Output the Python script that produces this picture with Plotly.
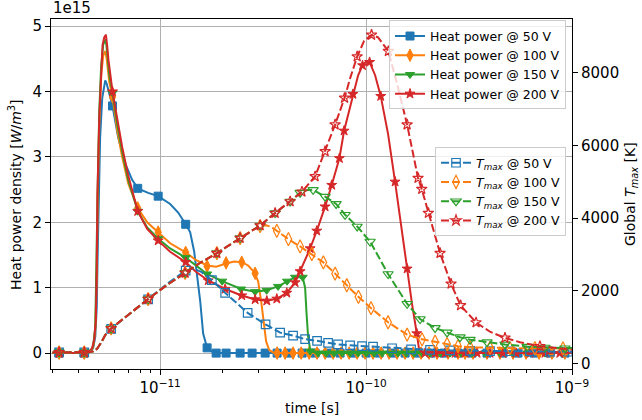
import math
import plotly.graph_objects as go

# ---------------- data (time in s, heat power in 1e15 W/m^3, T in K) ----------------
# Heat power @ 50 V
hp50_line_t = [3.0e-12, 3.23e-12, 4.28e-12, 4.47e-12, 4.624e-12, 4.729e-12, 4.84e-12, 4.92e-12, 4.97e-12, 5.03e-12,
               5.11e-12, 5.23e-12, 5.35e-12, 5.41e-12, 5.50e-12, 5.66e-12, 5.87e-12, 6.25e-12, 6.76e-12, 7.31e-12,
               7.78e-12, 8.74e-12, 9.78e-12, 1.118e-11, 1.223e-11, 1.33e-11, 1.398e-11, 1.463e-11, 1.512e-11, 1.564e-11,
               1.617e-11, 1.69e-11, 1.788e-11, 1.912e-11, 1.0e-9]
hp50_line_v = [0, 0, 0, 0.0, 0.03, 0.08, 0.25, 0.7, 1.5, 2.5,
               3.3, 3.9, 4.12, 4.17, 4.12, 3.95, 3.78, 3.3, 2.9, 2.65,
               2.52, 2.45, 2.40, 2.28, 2.15, 1.97, 1.85, 1.55, 1.2, 0.8,
               0.3, 0.08, 0.02, 0.0, 0.0]
hp50_mk_t = [3.23e-12, 4.28e-12, 5.87e-12, 7.78e-12, 9.78e-12, 1.33e-11, 1.69e-11, 1.87e-11, 2.09e-11, 2.445e-11,
             2.796e-11, 3.234e-11, 3.697e-11, 4.276e-11, 4.89e-11, 5.655e-11, 6.54e-11, 7.478e-11, 8.65e-11, 1.0e-10,
             1.157e-10, 1.337e-10, 1.547e-10, 1.788e-10, 2.067e-10, 2.391e-10, 2.796e-10, 3.27e-10, 3.867e-10, 4.624e-10,
             5.469e-10, 6.54e-10, 7.81e-10, 9.24e-10]
hp50_mk_v = [0, 0, 3.78, 2.52, 2.40, 1.97, 0.08, 0.0, 0.0, 0.0,
             0.0, 0.0, 0.0, 0.0, 0.0, 0.0, 0.0, 0.0, 0.0, 0.0,
             0.0, 0.0, 0.0, 0.0, 0.0, 0.0, 0.0, 0.0, 0.0, 0.0,
             0.0, 0.0, 0.0, 0.0]

# Heat power @ 100 V
hp100_line_t = [3.0e-12, 3.23e-12, 4.28e-12, 4.47e-12, 4.624e-12, 4.729e-12, 4.84e-12, 4.92e-12, 4.97e-12, 5.06e-12,
                5.17e-12, 5.29e-12, 5.41e-12, 5.50e-12, 5.66e-12, 5.87e-12, 6.19e-12, 6.54e-12, 6.99e-12, 7.78e-12,
                8.65e-12, 9.78e-12, 1.118e-11, 1.33e-11, 1.496e-11, 1.69e-11, 1.87e-11, 2.09e-11, 2.286e-11, 2.49e-11,
                2.674e-11, 2.86e-11, 2.99e-11, 3.092e-11, 3.18e-11, 3.27e-11, 3.38e-11, 3.536e-11, 3.697e-11, 1.0e-9]
hp100_line_v = [0, 0, 0, 0, 0.03, 0.1, 0.35, 1.2, 2.3, 3.5,
                4.25, 4.55, 4.62, 4.5, 4.15, 3.92, 3.4, 3.0, 2.6, 2.22,
                2.0, 1.85, 1.68, 1.54, 1.42, 1.34, 1.32, 1.37, 1.40, 1.39,
                1.34, 1.24, 1.1, 0.8, 0.45, 0.18, 0.05, 0.01, 0.0, 0.0]
hp100_mk_t = [3.23e-12, 4.28e-12, 5.87e-12, 7.78e-12, 9.78e-12, 1.33e-11, 1.69e-11, 2.09e-11, 2.49e-11, 2.892e-11,
              3.697e-11, 4.044e-11, 4.42e-11, 4.84e-11, 5.29e-11, 5.78e-11, 6.324e-11, 6.92e-11, 7.56e-11, 8.27e-11,
              9.05e-11, 9.89e-11, 1.081e-10, 1.183e-10, 1.293e-10, 1.414e-10, 1.547e-10, 1.691e-10, 1.849e-10, 2.022e-10,
              2.211e-10, 2.50e-10, 2.796e-10, 3.024e-10, 3.307e-10, 3.867e-10, 4.47e-10, 5.17e-10, 5.98e-10, 6.92e-10,
              7.99e-10, 9.24e-10]
hp100_mk_v = [0, 0, 3.92, 2.22, 1.85, 1.54, 1.33, 1.38, 1.39, 1.22,
              0.0, 0.0, 0.0, 0.0, 0.0, 0.0, 0.0, 0.0, 0.0, 0.0,
              0.0, 0.0, 0.0, 0.0, 0.0, 0.0, 0.0, 0.0, 0.0, 0.0,
              0.0, 0.0, 0.0, 0.0, 0.0, 0.0, 0.0, 0.0, 0.0, 0.0,
              0.0, 0.0]

# Heat power @ 150 V
hp150_line_t = [3.0e-12, 3.23e-12, 4.28e-12, 4.47e-12, 4.624e-12, 4.729e-12, 4.84e-12, 4.92e-12, 4.97e-12, 5.06e-12,
                5.17e-12, 5.29e-12, 5.44e-12, 5.53e-12, 5.66e-12, 5.87e-12, 6.19e-12, 6.54e-12, 6.99e-12, 7.78e-12,
                8.65e-12, 9.78e-12, 1.118e-11, 1.33e-11, 1.69e-11, 2.0e-11, 2.47e-11, 2.892e-11, 3.29e-11, 3.738e-11,
                4.135e-11, 4.522e-11, 4.92e-11, 5.057e-11, 5.14e-11, 5.229e-11, 5.348e-11, 5.59e-11, 5.85e-11, 1.0e-9]
hp150_line_v = [0, 0, 0, 0, 0.04, 0.12, 0.4, 1.4, 2.5, 3.7,
                4.4, 4.72, 4.8, 4.6, 4.25, 3.98, 3.5, 3.08, 2.65, 2.17,
                1.92, 1.75, 1.6, 1.46, 1.21, 1.10, 0.98, 0.94, 0.96, 1.02,
                1.10, 1.16, 1.16, 1.0, 0.6, 0.25, 0.06, 0.01, 0.0, 0.0]
hp150_mk_t = [3.23e-12, 4.28e-12, 5.87e-12, 7.78e-12, 9.78e-12, 1.33e-11, 1.69e-11, 2.0e-11, 2.47e-11, 2.892e-11,
              3.29e-11, 3.738e-11, 4.135e-11, 4.522e-11, 4.92e-11, 5.348e-11, 5.85e-11, 6.395e-11, 6.99e-11, 7.65e-11,
              8.363e-11, 9.15e-11, 1.0e-10, 1.093e-10, 1.196e-10, 1.308e-10, 1.43e-10, 1.564e-10, 1.711e-10, 1.87e-10,
              2.045e-10, 2.287e-10, 2.557e-10, 2.892e-10, 3.27e-10, 3.78e-10, 4.47e-10, 5.17e-10, 6.115e-10, 7.39e-10,
              8.94e-10]
hp150_mk_v = [0, 0, 3.98, 2.17, 1.75, 1.46, 1.21, 1.10, 0.98, 0.94,
              0.96, 1.02, 1.10, 1.16, 1.16, 0.03, 0.0, 0.0, 0.0, 0.0,
              0.0, 0.0, 0.0, 0.0, 0.0, 0.0, 0.0, 0.0, 0.0, 0.0,
              0.0, 0.0, 0.0, 0.0, 0.0, 0.0, 0.0, 0.0, 0.0, 0.0,
              0.0]

# Heat power @ 200 V
hp200_line_t = [3.0e-12, 3.23e-12, 4.28e-12, 4.37e-12, 4.522e-12, 4.68e-12, 4.78e-12, 4.87e-12, 4.92e-12, 4.96e-12,
                5.06e-12, 5.14e-12, 5.25e-12, 5.35e-12, 5.45e-12, 5.53e-12, 5.61e-12, 5.87e-12, 6.19e-12, 6.54e-12,
                6.99e-12, 7.78e-12, 8.65e-12, 9.78e-12, 1.118e-11, 1.33e-11, 1.496e-11, 1.711e-11, 2.068e-11, 2.49e-11,
                2.892e-11, 3.295e-11, 3.685e-11, 4.12e-11, 4.522e-11, 4.782e-11, 5.348e-11, 5.76e-11, 6.324e-11, 6.81e-11,
                7.42e-11, 7.82e-11, 8.63e-11, 9.15e-11, 9.61e-11, 1.0e-10, 1.04e-10, 1.106e-10, 1.178e-10, 1.279e-10,
                1.383e-10, 1.479e-10, 1.582e-10, 1.672e-10, 1.763e-10, 1.808e-10, 1.891e-10, 2.0e-10, 1.0e-9]
hp200_line_v = [0, 0, 0, 0, 0.02, 0.08, 0.2, 0.5, 1.3, 2.45,
                3.6, 4.2, 4.71, 4.83, 4.87, 4.7, 4.48, 4.0, 3.55, 3.15,
                2.72, 2.17, 1.9, 1.72, 1.55, 1.39, 1.24, 1.11, 0.98, 0.88,
                0.82, 0.80, 0.83, 0.92, 1.08, 1.25, 1.60, 1.87, 2.24, 2.57,
                2.98, 3.40, 3.96, 4.25, 4.40, 4.46, 4.45, 4.25, 3.93, 3.35,
                2.62, 1.95, 1.29, 0.75, 0.30, 0.06, 0.01, 0.0, 0.0]
hp200_mk_t = [3.23e-12, 4.28e-12, 5.87e-12, 7.78e-12, 9.78e-12, 1.33e-11, 1.711e-11, 2.068e-11, 2.49e-11, 2.892e-11,
              3.295e-11, 3.685e-11, 4.12e-11, 4.522e-11, 4.782e-11, 5.348e-11, 5.76e-11, 6.324e-11, 6.81e-11, 7.42e-11,
              7.82e-11, 8.63e-11, 9.61e-11, 1.04e-10, 1.178e-10, 1.383e-10, 1.582e-10, 1.763e-10, 1.935e-10, 2.163e-10,
              2.418e-10, 2.704e-10, 3.024e-10, 3.458e-10, 3.998e-10, 4.624e-10, 5.348e-10, 6.248e-10, 7.39e-10, 8.73e-10]
hp200_mk_v = [0, 0, 4.0, 2.17, 1.72, 1.39, 1.11, 0.98, 0.88, 0.82,
              0.80, 0.83, 0.92, 1.08, 1.25, 1.60, 1.87, 2.24, 2.57, 2.98,
              3.40, 3.96, 4.40, 4.45, 3.93, 2.62, 1.29, 0.30, 0.0, 0.0,
              0.0, 0.0, 0.0, 0.0, 0.0, 0.0, 0.0, 0.0, 0.0, 0.0]

# T_max @ 50 V
t50_line_t = [3.0e-12, 3.23e-12, 4.28e-12, 4.47e-12, 4.729e-12, 4.94e-12, 5.17e-12, 5.41e-12, 5.78e-12, 7.15e-12,
              8.74e-12, 1.069e-11, 1.33e-11, 1.445e-11, 1.581e-11, 1.783e-11, 2.068e-11, 2.66e-11, 3.25e-11, 3.824e-11,
              4.42e-11, 5.057e-11, 5.78e-11, 6.54e-11, 7.31e-11, 8.363e-11, 9.56e-11, 1.081e-10, 1.337e-10, 1.653e-10,
              2.045e-10, 2.557e-10, 3.198e-10, 3.998e-10, 4.998e-10, 6.248e-10, 7.81e-10, 9.55e-10, 1.0e-9]
t50_line_v = [300, 300, 300, 302, 330, 400, 570, 780, 950, 1380,
              1760, 2170, 2555, 2610, 2520, 2290, 1940, 1390, 1070, 844,
              765, 665, 620, 560, 520, 495, 475, 458, 414, 386,
              370, 355, 345, 338, 332, 327, 322, 318, 317]
t50_mk_t = [3.23e-12, 4.28e-12, 5.78e-12, 8.74e-12, 1.33e-11, 1.783e-11, 2.068e-11, 2.66e-11, 3.25e-11, 3.824e-11,
            4.42e-11, 5.057e-11, 5.78e-11, 6.54e-11, 7.31e-11, 8.363e-11, 9.56e-11, 1.081e-10, 1.337e-10, 1.653e-10,
            2.045e-10, 2.557e-10, 3.198e-10, 3.998e-10, 4.998e-10, 6.248e-10, 7.81e-10, 9.55e-10]
t50_mk_v = [300, 300, 950, 1760, 2555, 2290, 1940, 1390, 1070, 844,
            765, 665, 620, 560, 520, 495, 475, 458, 414, 386,
            370, 355, 345, 338, 332, 327, 322, 318]

# T_max @ 100 V
t100_line_t = [3.0e-12, 3.23e-12, 4.28e-12, 4.47e-12, 4.729e-12, 4.94e-12, 5.17e-12, 5.41e-12, 5.78e-12, 7.15e-12,
               8.74e-12, 1.069e-11, 1.322e-11, 1.564e-11, 1.885e-11, 2.445e-11, 2.796e-11, 3.058e-11, 3.27e-11, 3.458e-11,
               3.685e-11, 4.196e-11, 4.782e-11, 5.45e-11, 6.20e-11, 7.072e-11, 8.06e-11, 9.18e-11, 1.057e-10, 1.279e-10,
               1.582e-10, 1.870e-10, 2.163e-10, 2.473e-10, 2.796e-10, 3.198e-10, 3.998e-10, 4.998e-10, 6.607e-10, 9.04e-10,
               1.0e-9]
t100_line_v = [300, 300, 300, 302, 330, 400, 570, 780, 960, 1390,
               1770, 2140, 2490, 2770, 3035, 3449, 3660, 3780, 3800, 3760,
               3650, 3420, 3220, 3010, 2780, 2470, 2150, 1830, 1520, 1130,
               790, 660, 596, 530, 470, 440, 425, 418, 414, 410,
               408]
t100_mk_t = [3.23e-12, 4.28e-12, 5.78e-12, 8.74e-12, 1.322e-11, 1.885e-11, 2.445e-11, 3.058e-11, 3.685e-11, 4.196e-11,
             4.782e-11, 5.45e-11, 6.20e-11, 7.072e-11, 8.06e-11, 9.18e-11, 1.057e-10, 1.279e-10, 1.582e-10, 1.870e-10,
             2.163e-10, 2.473e-10, 2.796e-10, 3.198e-10, 3.998e-10, 4.998e-10, 6.607e-10, 9.04e-10]
t100_mk_v = [300, 300, 960, 1770, 2490, 3035, 3449, 3780, 3650, 3420,
             3220, 3010, 2780, 2470, 2150, 1830, 1520, 1130, 790, 660,
             596, 530, 470, 440, 425, 418, 414, 410]

# T_max @ 150 V
t150_line_t = [3.0e-12, 3.23e-12, 4.28e-12, 4.47e-12, 4.729e-12, 4.94e-12, 5.17e-12, 5.41e-12, 5.78e-12, 7.15e-12,
               8.74e-12, 1.069e-11, 1.322e-11, 1.564e-11, 1.885e-11, 2.445e-11, 3.058e-11, 3.616e-11, 4.276e-11, 4.782e-11,
               5.114e-11, 5.53e-11, 6.324e-11, 7.15e-11, 7.908e-11, 9.05e-11, 1.046e-10, 1.279e-10, 1.582e-10, 1.829e-10,
               2.163e-10, 2.473e-10, 2.859e-10, 3.198e-10, 3.867e-10, 4.727e-10, 6.05e-10, 7.39e-10, 9.24e-10, 1.0e-9]
t150_line_v = [300, 300, 300, 302, 330, 400, 570, 780, 960, 1390,
               1770, 2140, 2490, 2770, 3035, 3449, 3796, 4139, 4458, 4700,
               4770, 4780, 4590, 4390, 4092, 3769, 3355, 2460, 1640, 1220,
               975, 850, 720, 650, 585, 520, 460, 435, 415, 412]
t150_mk_t = [3.23e-12, 4.28e-12, 5.78e-12, 8.74e-12, 1.322e-11, 1.885e-11, 2.445e-11, 3.058e-11, 3.616e-11, 4.276e-11,
             4.782e-11, 5.53e-11, 6.324e-11, 7.15e-11, 7.908e-11, 9.05e-11, 1.046e-10, 1.279e-10, 1.582e-10, 1.829e-10,
             2.163e-10, 2.473e-10, 2.859e-10, 3.198e-10, 3.867e-10, 4.727e-10, 6.05e-10, 7.39e-10, 9.24e-10]
t150_mk_v = [300, 300, 960, 1770, 2490, 3035, 3449, 3796, 4139, 4458,
             4700, 4780, 4590, 4390, 4092, 3769, 3355, 2460, 1640, 1220,
             975, 850, 720, 650, 585, 520, 460, 435, 415]

# T_max @ 200 V
t200_line_t = [3.0e-12, 3.23e-12, 4.28e-12, 4.47e-12, 4.729e-12, 4.94e-12, 5.17e-12, 5.41e-12, 5.78e-12, 7.15e-12,
               8.74e-12, 1.069e-11, 1.322e-11, 1.564e-11, 1.885e-11, 2.445e-11, 3.058e-11, 3.616e-11, 4.276e-11, 4.88e-11,
               5.655e-11, 6.324e-11, 7.072e-11, 7.86e-11, 8.363e-11, 9.05e-11, 9.78e-11, 1.063e-10, 1.143e-10, 1.283e-10,
               1.414e-10, 1.582e-10, 1.788e-10, 1.863e-10, 2.006e-10, 2.287e-10, 2.586e-10, 2.876e-10, 3.42e-10, 3.998e-10,
               4.727e-10, 5.588e-10, 6.987e-10, 8.73e-10, 1.0e-9]
t200_line_v = [300, 300, 300, 302, 330, 400, 570, 780, 960, 1390,
               1770, 2140, 2490, 2770, 3035, 3449, 3796, 4139, 4458, 4726,
               5148, 5838, 6575, 7311, 7850, 8450, 8880, 9048, 8980, 8598,
               7700, 6575, 5104, 4800, 4139, 3035, 2190, 1595, 1125, 870,
               700, 580, 470, 400, 370]
t200_mk_t = [3.23e-12, 4.28e-12, 5.78e-12, 8.74e-12, 1.322e-11, 1.885e-11, 2.445e-11, 3.058e-11, 3.616e-11, 4.276e-11,
             4.88e-11, 5.655e-11, 6.324e-11, 7.072e-11, 7.86e-11, 9.05e-11, 1.063e-10, 1.283e-10, 1.582e-10, 1.788e-10,
             1.863e-10, 2.006e-10, 2.287e-10, 2.586e-10, 2.876e-10, 3.42e-10, 4.727e-10, 6.987e-10]
t200_mk_v = [300, 300, 960, 1770, 2490, 3035, 3449, 3796, 4139, 4458,
             4726, 5148, 5838, 6575, 7311, 8450, 9048, 8598, 6575, 5104,
             4800, 4139, 3035, 2190, 1595, 1125, 700, 470]

x_tickvals = [1e-11, 1e-10, 1e-9]
x_ticktext = ["10<sup>\u221211</sup>", "10<sup>\u221210</sup>", "10<sup>\u22129</sup>"]
y1_ticks = [0, 1, 2, 3, 4, 5]
y2_ticks = [0, 2000, 4000, 6000, 8000]

# ---------------- figure ----------------
C0, C1, C2, C3 = "#1f77b4", "#ff7f0e", "#2ca02c", "#d62728"
FONT = "DejaVu Sans"
fig = go.Figure()


def add_series(tl, yl, tm, ym, color, symbol, size, name, yaxis, dash, legend, filled):
    line = dict(color=color, width=2, dash=dash)
    if filled:
        mk = dict(symbol=symbol, size=size, color=color, line=dict(color=color, width=1))
    else:
        mk = dict(symbol=symbol + "-open", size=size, color=color, line=dict(color=color, width=1.2))
    fig.add_trace(go.Scatter(x=tl, y=yl, mode="lines", line=line, yaxis=yaxis,
                             showlegend=False, hoverinfo="skip"))
    fig.add_trace(go.Scatter(x=tm, y=ym, mode="markers", marker=mk, yaxis=yaxis,
                             showlegend=False, hoverinfo="skip"))
    fig.add_trace(go.Scatter(x=[None], y=[None], mode="lines+markers", line=line, marker=mk,
                             yaxis=yaxis, name=name, legend=legend, hoverinfo="skip"))


add_series(hp50_line_t, hp50_line_v, hp50_mk_t, hp50_mk_v, C0, "square", 8, "Heat power @ 50 V", "y", "solid", "legend", True)
add_series(hp100_line_t, hp100_line_v, hp100_mk_t, hp100_mk_v, C1, "diamond-tall", 9, "Heat power @ 100 V", "y", "solid", "legend", True)
add_series(hp150_line_t, hp150_line_v, hp150_mk_t, hp150_mk_v, C2, "triangle-down", 8, "Heat power @ 150 V", "y", "solid", "legend", True)
add_series(hp200_line_t, hp200_line_v, hp200_mk_t, hp200_mk_v, C3, "star", 7.5, "Heat power @ 200 V", "y", "solid", "legend", True)

TM = "<i>T</i><sub><i>max</i></sub>"
add_series(t50_line_t, t50_line_v, t50_mk_t, t50_mk_v, C0, "square", 8.5, TM + " @ 50 V", "y2", "8px,3px", "legend2", False)
add_series(t100_line_t, t100_line_v, t100_mk_t, t100_mk_v, C1, "diamond-tall", 9.5, TM + " @ 100 V", "y2", "8px,3px", "legend2", False)
add_series(t150_line_t, t150_line_v, t150_mk_t, t150_mk_v, C2, "triangle-down", 9, TM + " @ 150 V", "y2", "8px,3px", "legend2", False)
add_series(t200_line_t, t200_line_v, t200_mk_t, t200_mk_v, C3, "star", 8, TM + " @ 200 V", "y2", "8px,3px", "legend2", False)

minor_vals = [m * 10.0 ** e for e in (-12, -11, -10) for m in range(2, 10)]

axis_common = dict(showline=True, linecolor="black", linewidth=1, ticks="outside", ticklen=5,
                   tickwidth=1, tickcolor="black", zeroline=False, tickfont=dict(size=15),
                   automargin=False)

legend_common = dict(bgcolor="rgba(255,255,255,0.8)", bordercolor="#cccccc", borderwidth=1,
                     font=dict(size=12.5, family=FONT), xanchor="right", yanchor="top",
                     tracegroupgap=0, itemwidth=30)

fig.update_layout(
    width=642, height=420,
    margin=dict(l=51, r=70, t=19, b=51, autoexpand=False),
    paper_bgcolor="white", plot_bgcolor="white",
    font=dict(family=FONT, size=14, color="black"),
    hovermode=False,
    xaxis=dict(type="log", range=[math.log10(2.95e-12), -9], tickvals=x_tickvals, ticktext=x_ticktext,
               mirror=True, showgrid=True, gridcolor="#b0b0b0", gridwidth=1,
               minor=dict(tickvals=minor_vals, ticks="outside", ticklen=3, tickwidth=1,
                          tickcolor="black", showgrid=False),
               **axis_common),
    yaxis=dict(range=[-0.2435, 5.11], tickvals=y1_ticks, showgrid=True, gridcolor="#b0b0b0", gridwidth=1,
               **axis_common),
    yaxis2=dict(overlaying="y", side="right", range=[-157, 9485], tickvals=y2_ticks,
                ticktext=[str(v) for v in y2_ticks], showgrid=False,
                **axis_common),
    legend=dict(x=0.9885, y=0.996, **legend_common),
    legend2=dict(x=0.9885, y=0.634, **legend_common),
    annotations=[
        dict(text="1e15", xref="paper", yref="paper", x=0, y=1.0, xanchor="left",
             yanchor="bottom", showarrow=False, font=dict(size=15)),
        dict(text="time [s]", xref="paper", yref="paper", x=0.5, y=-0.1114, xanchor="center",
             yanchor="middle", showarrow=False, font=dict(size=14)),
        dict(text="Heat power density [<i>W</i>/<i>m</i><sup>3</sup>]", xref="paper", yref="paper",
             x=-0.0691, y=0.5, xanchor="center", yanchor="middle", textangle=-90,
             showarrow=False, font=dict(size=14)),
        dict(text="Global " + TM + " [K]", xref="paper", yref="paper",
             x=1.1132, y=0.5, xanchor="center", yanchor="middle", textangle=-90,
             showarrow=False, font=dict(size=14)),
    ],
)

# remove the default 8 px page margin so the 642x420 figure fills the window exactly
fig.write_html("out.html", config={"displayModeBar": False},
               post_script="document.body.style.margin='0px';")
